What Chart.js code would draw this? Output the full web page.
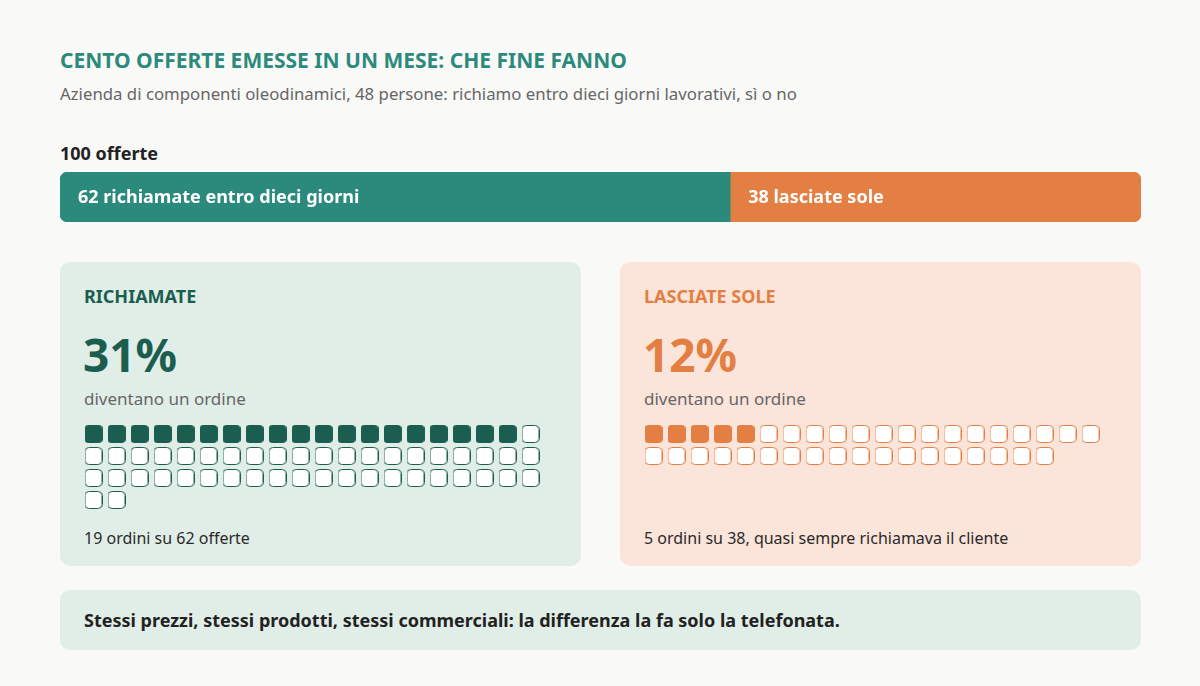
<!DOCTYPE html>
<html lang="it">
<head>
<meta charset="utf-8">
<title>Cento offerte emesse in un mese</title>
<script src="https://cdn.jsdelivr.net/npm/chart.js@4.4.1/dist/chart.umd.min.js"></script>
<style>
  html, body { margin: 0; padding: 0; }
  body {
    width: 1200px; height: 686px; overflow: hidden;
    background: #F9F9F7;
    font-family: "Noto Sans", sans-serif;
    position: relative;
  }
  .abs { position: absolute; }
  h1 { position: absolute; left: 60px; top: 46px; margin: 0; font-size: 21px; font-weight: 700; color: #2B8A7C; }
  .sub { left: 60px; top: 82px; font-size: 16.8px; color: #666; }
  .tot { left: 60px; top: 141px; font-size: 18px; font-weight: 700; color: #222; }
  #barWrap { left: 60px; top: 172px; width: 1081px; height: 50px; }
  .card { top: 262px; width: 521px; height: 304px; border-radius: 10px; }
  .card .lab { position: absolute; left: 24px; top: 22px; font-size: 18px; font-weight: 700; }
  .card .big { position: absolute; left: 23px; top: 64px; font-size: 46px; font-weight: 700; line-height: 56px; }
  .card .desc { position: absolute; left: 24px; top: 125px; font-size: 17px; color: #666; }
  .card .note { position: absolute; left: 24px; top: 265px; font-size: 16px; color: #2a2a2a; }
  .card .waffle { position: absolute; left: 21.5px; top: 161px; width: 460px; height: 88px; }
  #cardA { left: 60px; background: #E1EEE7; }
  #cardA .lab, #cardA .big { color: #1B5E50; }
  #cardB { left: 620px; background: #FBE4D9; }
  #cardB .lab, #cardB .big { color: #E37F43; }
  .foot { left: 60px; top: 590px; width: 1081px; height: 60px; border-radius: 10px; background: #E1EEE7; }
  .foot span { position: absolute; left: 24px; top: 18px; font-size: 18px; font-weight: 700; color: #222; }
</style>
</head>
<body>
<h1>CENTO OFFERTE EMESSE IN UN MESE: CHE FINE FANNO</h1>
<div class="abs sub">Azienda di componenti oleodinamici, 48 persone: richiamo entro dieci giorni lavorativi, sì o no</div>
<div class="abs tot">100 offerte</div>
<div class="abs" id="barWrap"><canvas id="barChart"></canvas></div>

<div class="abs card" id="cardA">
  <div class="lab">RICHIAMATE</div>
  <div class="big">31%</div>
  <div class="desc">diventano un ordine</div>
  <div class="waffle"><canvas id="waffleA"></canvas></div>
  <div class="note">19 ordini su 62 offerte</div>
</div>
<div class="abs card" id="cardB">
  <div class="lab">LASCIATE SOLE</div>
  <div class="big">12%</div>
  <div class="desc">diventano un ordine</div>
  <div class="waffle"><canvas id="waffleB"></canvas></div>
  <div class="note">5 ordini su 38, quasi sempre richiamava il cliente</div>
</div>
<div class="abs foot"><span>Stessi prezzi, stessi prodotti, stessi commerciali: la differenza la fa solo la telefonata.</span></div>

<script>
// dati
const categorie = ['richiamate', 'lasciate sole'];
const etichetteBarra = ['62 richiamate entro dieci giorni', '38 lasciate sole'];
const offerte = [62, 38];
const ordini = [19, 5];
const totaleOfferte = 100;
const perRiga = 20;

const verde = '#2B8A7C';
const verdeScuro = '#1B5E50';
const arancio = '#E37F43';

Chart.defaults.font.family = '"Noto Sans", sans-serif';
Chart.defaults.animation = false;

// barra impilata 62 / 38
const etichetteInterne = {
    id: 'etichetteInterne',
    afterDatasetsDraw(chart) {
        const c = chart.ctx;
        c.save();
        c.fillStyle = '#fff';
        c.font = 'bold 18px "Noto Sans", sans-serif';
        c.textBaseline = 'middle';
        chart.data.datasets.forEach((ds, i) => {
            const bar = chart.getDatasetMeta(i).data[0];
            const left = Math.min(bar.x, bar.base);
            c.fillText(etichetteBarra[i], left + 18, bar.y + 1);
        });
        c.restore();
    }
};

new Chart(document.getElementById('barChart'), {
    type: 'bar',
    data: {
        labels: ['offerte'],
        datasets: [
            { label: categorie[0], data: [offerte[0]], backgroundColor: verde,
              borderRadius: { topLeft: 8, bottomLeft: 8, topRight: 0, bottomRight: 0 }, borderSkipped: false },
            { label: categorie[1], data: [offerte[1]], backgroundColor: arancio,
              borderRadius: { topLeft: 0, bottomLeft: 0, topRight: 8, bottomRight: 8 }, borderSkipped: false }
        ]
    },
    options: {
        indexAxis: 'y',
        responsive: true,
        maintainAspectRatio: false,
        barPercentage: 1,
        categoryPercentage: 1,
        layout: { padding: 0 },
        scales: {
            x: { stacked: true, min: 0, max: totaleOfferte, display: false },
            y: { stacked: true, display: false }
        },
        plugins: { legend: { display: false }, tooltip: { enabled: false } }
    },
    plugins: [etichetteInterne]
});

// quadratini del waffle, disegnati come pointStyle
function quadrato(colore, pieno) {
    const cv = document.createElement('canvas');
    cv.width = 18; cv.height = 18;
    const c = cv.getContext('2d');
    c.beginPath();
    if (pieno) {
        c.roundRect(0, 0, 18, 18, 4);
        c.fillStyle = colore;
        c.fill();
    } else {
        c.roundRect(0.5, 0.5, 17, 17, 4);
        c.fillStyle = '#fff';
        c.fill();
        c.lineWidth = 1;
        c.strokeStyle = colore;
        c.stroke();
    }
    return cv;
}

function waffle(id, totale, pieni, colore) {
    const ordinati = [], vuoti = [];
    for (let i = 0; i < totale; i++) {
        const p = { x: i % perRiga, y: Math.floor(i / perRiga) };
        (i < pieni ? ordinati : vuoti).push(p);
    }
    new Chart(document.getElementById(id), {
        type: 'scatter',
        data: {
            datasets: [
                { data: ordinati, pointStyle: quadrato(colore, true), pointRadius: 9 },
                { data: vuoti, pointStyle: quadrato(colore, false), pointRadius: 9 }
            ]
        },
        options: {
            responsive: true,
            maintainAspectRatio: false,
            layout: { padding: 0, autoPadding: false },
            scales: {
                x: { min: -0.5, max: perRiga - 0.5, display: false },
                y: { min: -0.5, max: 3.5, reverse: true, display: false }
            },
            plugins: { legend: { display: false }, tooltip: { enabled: false } }
        }
    });
}

waffle('waffleA', offerte[0], ordini[0], verdeScuro);
waffle('waffleB', offerte[1], ordini[1], arancio);
</script>
</body>
</html>
